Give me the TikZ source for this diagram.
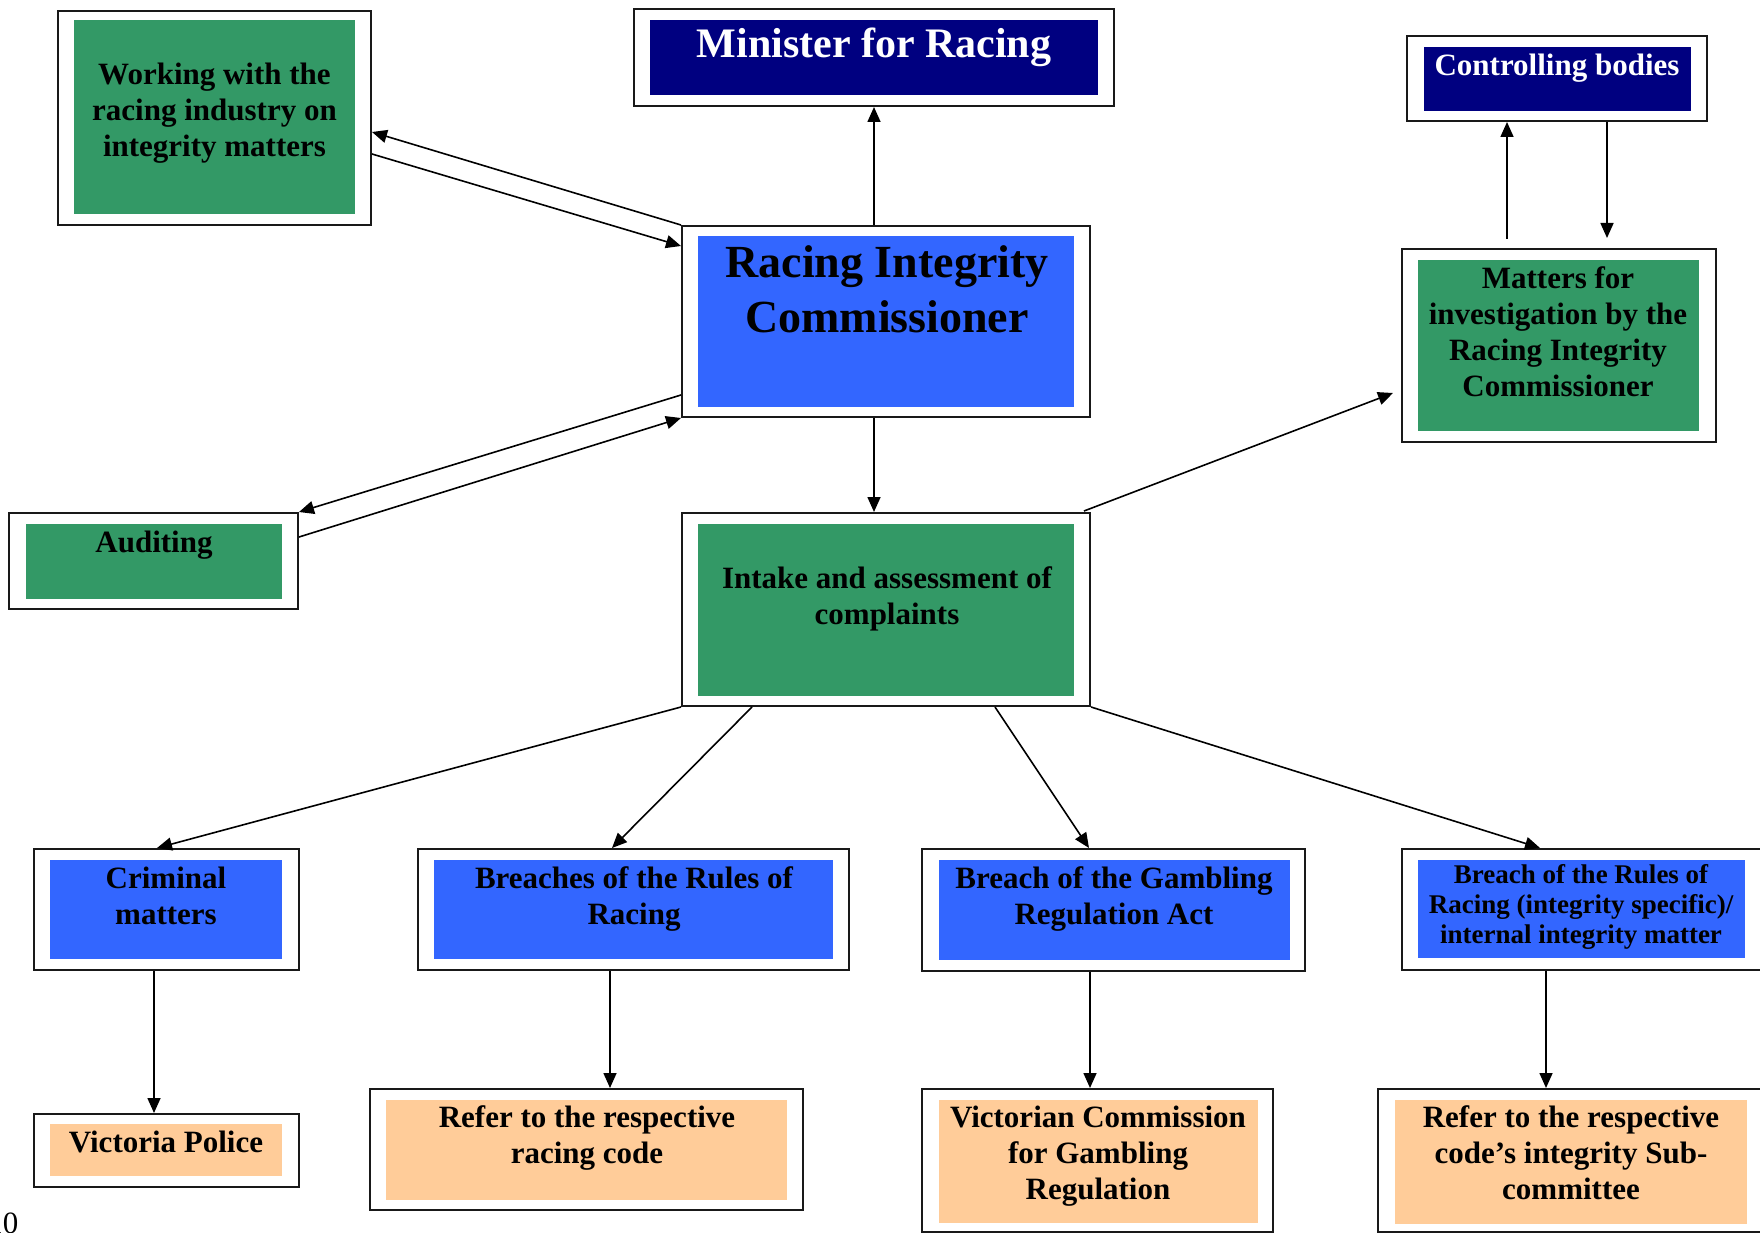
\documentclass[tikz,border=0pt]{standalone}
\usepackage{fontspec}
\setmainfont{Liberation Serif}
\usetikzlibrary{arrows.meta,fit,calc}
\definecolor{grn}{HTML}{339966}
\definecolor{blu}{HTML}{3366FF}
\definecolor{nvy}{HTML}{000080}
\definecolor{pch}{HTML}{FFCC99}
\begin{document}
\begin{tikzpicture}[x=1pt,y=-1pt,
  obox/.style={draw=black!90, line width=2pt, fill=white, inner sep=0pt},
  ibox/.style={draw=none, inner sep=0pt},
  txt/.style={anchor=north, inner sep=0pt, align=center, font=\bfseries\fontsize{31}{36}\selectfont},
  arr/.style={line width=1.6pt, -{Triangle[length=15pt,width=13pt]}}]
\useasboundingbox (0,0) rectangle (1760,1233);
% outer boxes
\node[obox, fit={(58,11) (371,225)}] (work) {};
\node[obox, fit={(634,9) (1114,106)}] (min) {};
\node[obox, fit={(682,226) (1090,417)}] (ric) {};
\node[obox, fit={(1407,36) (1707,121)}] (ctrl) {};
\node[obox, fit={(1402,249) (1716,442)}] (mat) {};
\node[obox, fit={(9,513) (298,609)}] (aud) {};
\node[obox, fit={(682,513) (1090,706)}] (intk) {};
\node[obox, fit={(34,849) (299,970)}] (crim) {};
\node[obox, fit={(418,849) (849,970)}] (brr) {};
\node[obox, fit={(922,849) (1305,971)}] (gra) {};
\node[obox, fit={(1402,849) (1763,970)}] (bri) {};
\node[obox, fit={(34,1114) (299,1187)}] (vic) {};
\node[obox, fit={(370,1089) (803,1210)}] (rrc) {};
\node[obox, fit={(922,1089) (1273,1232)}] (vcg) {};
\node[obox, fit={(1378,1089) (1763,1232)}] (rcs) {};
% inner fills
\node[ibox, fill=grn, fit={(74,20) (355,214)}] (work-in) {};
\node[ibox, fill=nvy, fit={(650,20) (1098,95)}] (min-in) {};
\node[ibox, fill=blu, fit={(698,236) (1074,407)}] (ric-in) {};
\node[ibox, fill=nvy, fit={(1424,47) (1691,111)}] (ctrl-in) {};
\node[ibox, fill=grn, fit={(1418,260) (1699,431)}] (mat-in) {};
\node[ibox, fill=grn, fit={(26,524) (282,599)}] (aud-in) {};
\node[ibox, fill=grn, fit={(698,524) (1074,696)}] (intk-in) {};
\node[ibox, fill=blu, fit={(50,860) (282,959)}] (crim-in) {};
\node[ibox, fill=blu, fit={(434,860) (833,959)}] (brr-in) {};
\node[ibox, fill=blu, fit={(939,860) (1290,960)}] (gra-in) {};
\node[ibox, fill=blu, fit={(1418,860) (1745,958)}] (bri-in) {};
\node[ibox, fill=pch, fit={(50,1124) (282,1176)}] (vic-in) {};
\node[ibox, fill=pch, fit={(386,1100) (787,1200)}] (rrc-in) {};
\node[ibox, fill=pch, fit={(939,1100) (1258,1223)}] (vcg-in) {};
\node[ibox, fill=pch, fit={(1395,1100) (1747,1224)}] (rcs-in) {};
% texts
\node[txt] (work-t) at (214.5,58.8) {\strut Working with the\\\strut racing industry on\\\strut integrity matters};
\node[txt, text=white, font=\bfseries\fontsize{42}{50}\selectfont] (min-t) at (874,22) {\strut Minister for Racing};
\node[txt, font=\bfseries\fontsize{46}{55}\selectfont] (ric-t) at (887,238.5) {\strut Racing Integrity\\\strut Commissioner};
\node[txt, text=white] (ctrl-t) at (1557,49.8) {\strut Controlling bodies};
\node[txt] (mat-t) at (1558,262.8) {\strut Matters for\\\strut investigation by the\\\strut Racing Integrity\\\strut Commissioner};
\node[txt] (aud-t) at (154,526.8) {\strut Auditing};
\node[txt] (intk-t) at (887,562.8) {\strut Intake and assessment of\\\strut complaints};
\node[txt] (crim-t) at (166,862.8) {\strut Criminal\\\strut matters};
\node[txt] (brr-t) at (634,862.8) {\strut Breaches of the Rules of\\\strut Racing};
\node[txt] (gra-t) at (1114,862.8) {\strut Breach of the Gambling\\\strut Regulation Act};
\node[txt, font=\bfseries\fontsize{27}{30}\selectfont] (bri-t) at (1581,862) {\strut Breach of the Rules of\\\strut Racing (integrity specific)/\\\strut internal integrity matter};
\node[txt] (vic-t) at (166,1126.8) {\strut Victoria Police};
\node[txt] (rrc-t) at (587,1101.8) {\strut Refer to the respective\\\strut racing code};
\node[txt] (vcg-t) at (1098,1101.8) {\strut Victorian Commission\\\strut for Gambling\\\strut Regulation};
\node[txt] (rcs-t) at (1571,1101.8) {\strut Refer to the respective\\\strut code’s integrity Sub-\\\strut committee};
\node[anchor=base east, inner sep=0pt, font=\fontsize{31}{36}\selectfont] (pg) at (18.5,1233) {10};
% connectors
\draw[arr] (min.south |- ric.north) -- (min.south);
\draw[arr] (min.south |- ric.south) -- (min.south |- intk.north);
\draw[arr] (ric.north west) -- ($(work.east)+(0,14)$);
\draw[arr] ($(work.east)+(0,36)$) -- ($(ric.north west)+(0,21)$);
\draw[arr] ($(ric.south west)+(0,-23)$) -- (aud.north east);
\draw[arr] ($(aud.north east)+(0,25)$) -- (ric.south west);
\draw[arr] ($(mat.north)+(-52,-9)$) -- ($(ctrl.south)+(-50,0)$);
\draw[arr] ($(ctrl.south)+(50,0)$) -- ($(mat.north)+(48,-10)$);
\draw[arr] ($(intk.north east)+(-7,-1)$) -- ($(mat.west)+(-8,47.5)$);
\draw[arr] (intk.south west) -- ($(crim.north)+(-9.5,0)$);
\draw[arr] ($(intk.south west)+(71,0)$) -- ($(brr.north)+(-21.5,0)$);
\draw[arr] ($(intk.south east)+(-96,0)$) -- ($(gra.north)+(-24.5,0)$);
\draw[arr] (intk.south east) -- ($(bri.north)+(-42.5,0)$);
\coordinate (c1) at ($(crim.south)+(-12.5,0)$);
\coordinate (c2) at ($(brr.south)+(-23.5,0)$);
\coordinate (c3) at ($(gra.south)+(-23.5,0)$);
\coordinate (c4) at ($(bri.south)+(-36.5,0)$);
\draw[arr] (c1) -- (c1 |- vic.north);
\draw[arr] (c2) -- (c2 |- rrc.north);
\draw[arr] (c3) -- (c3 |- vcg.north);
\draw[arr] (c4) -- (c4 |- rcs.north);
\end{tikzpicture}
\end{document}
